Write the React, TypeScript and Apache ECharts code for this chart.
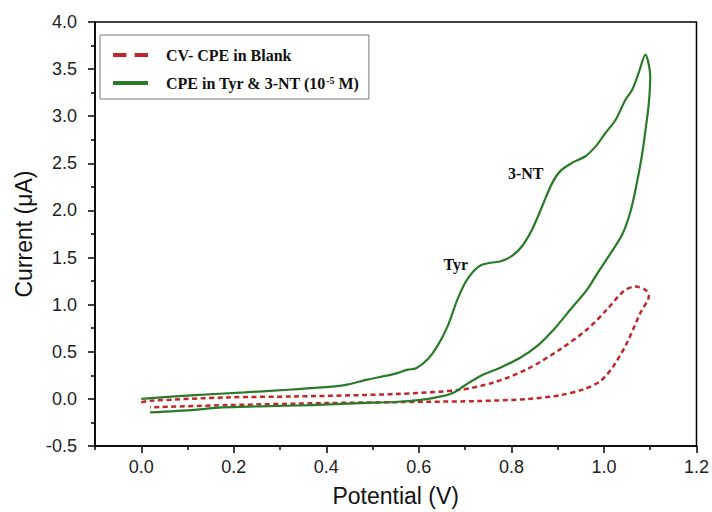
import React, { useEffect, useRef } from 'react';
import * as echarts from 'echarts';

// ---------- data ----------
const blankName = 'CV- CPE in Blank';
const sampleName = 'CPE in Tyr & 3-NT (10-5 M)';

const blankPotential = [
  0.0, 0.019, 0.187, 0.331, 0.547, 0.69, 0.762, 0.834, 0.906, 0.964, 1.007, 1.043, 1.068, 1.09, 1.097,
  1.079, 1.05, 1.021, 0.993, 0.957, 0.906, 0.834, 0.726, 0.619, 0.547, 0.403, 0.187, 0.019,
];
const blankCurrent = [
  -0.037, -0.02, 0.016, 0.026, 0.051, 0.097, 0.175, 0.316, 0.528, 0.739, 0.951, 1.145, 1.192, 1.156, 1.092,
  0.916, 0.598, 0.351, 0.192, 0.104, 0.04, -0.002, -0.023, -0.031, -0.035, -0.044, -0.066, -0.09,
];

const samplePotential = [
  0.0, 0.116, 0.223, 0.317, 0.389, 0.439, 0.489, 0.547, 0.576, 0.594, 0.619, 0.64, 0.662, 0.683, 0.701,
  0.719, 0.735, 0.755, 0.777, 0.802, 0.823, 0.845, 0.867, 0.888, 0.906, 0.931, 0.96, 0.982, 1.003, 1.025,
  1.046, 1.061, 1.075, 1.0895, 1.1,
  1.097, 1.09, 1.082, 1.071, 1.058, 1.04, 1.015, 0.989, 0.964, 0.928, 0.892, 0.856, 0.82, 0.777, 0.734,
  0.698, 0.676, 0.648, 0.604, 0.547, 0.475, 0.367, 0.259, 0.173, 0.116, 0.019,
];
const sampleCurrent = [
  0.0, 0.04, 0.069, 0.097, 0.122, 0.146, 0.205, 0.265, 0.31, 0.325, 0.42, 0.56, 0.77, 1.05, 1.24,
  1.36, 1.42, 1.445, 1.46, 1.52, 1.62, 1.8, 2.05, 2.29, 2.42, 2.505, 2.575, 2.68, 2.82, 2.96,
  3.17, 3.28, 3.46, 3.653, 3.42,
  3.14, 2.86, 2.58, 2.29, 2.0, 1.75, 1.55, 1.357, 1.163, 0.951, 0.739, 0.562, 0.44, 0.334, 0.245,
  0.139, 0.069, 0.026, -0.01, -0.033, -0.044, -0.066, -0.079, -0.09, -0.116, -0.143,
];

const peakLabels = ['Tyr', '3-NT'];
const peakPotential = [0.68, 0.831];
const peakCurrent = [1.43, 2.39];

const xMajorTicks = [0.0, 0.2, 0.4, 0.6, 0.8, 1.0, 1.2];
const xMinorTicks = [-0.1, 0.1, 0.3, 0.5, 0.7, 0.9, 1.1];

// ---------- styles ----------
const RED = '#c0272d';
const GREEN = '#2a7a2a';
const SANS = 'Liberation Sans, Arial, sans-serif';
const SERIF = 'Liberation Serif, Times New Roman, serif';
const DASHED_ICON = 'path://M0 0H13V4H0Z M21 0H34V4H21Z';
const SOLID_ICON = 'path://M0 0H34V4H0Z';

export default function App() {
  const ref = useRef<HTMLDivElement>(null);

  useEffect(() => {
    if (!ref.current) return;
    const chart = echarts.init(ref.current, undefined, { renderer: 'svg' });
    const axisLineStyle = { color: '#000', width: 1.5 };
    chart.setOption({
      animation: false,
      backgroundColor: '#fff',
      grid: {
        left: 95, right: 14, top: 22, bottom: 65,
        show: true, borderColor: '#000', borderWidth: 1.5,
      },
      legend: {
        left: 100, top: 35, orient: 'vertical',
        itemWidth: 35, itemHeight: 14, itemGap: 12,
        padding: [12, 10, 8, 13],
        symbolKeepAspect: true,
        borderColor: '#777', borderWidth: 1, backgroundColor: '#fff',
        data: [
          { name: blankName, icon: DASHED_ICON, itemStyle: { color: RED, borderWidth: 0 } },
          { name: sampleName, icon: SOLID_ICON, itemStyle: { color: GREEN, borderWidth: 0 } },
        ],
        formatter: (name: string) => {
          if (name === sampleName) return '{b|CPE in Tyr & 3-NT (10}{s|-5}{b| M)}';
          return '{b|' + name + '}';
        },
        textStyle: {
          padding: [0, 0, 0, 13],
          fontFamily: SERIF, fontWeight: 'bold', fontSize: 16, color: '#111',
          rich: {
            b: { fontFamily: SERIF, fontWeight: 'bold', fontSize: 16, color: '#111' },
            s: { fontFamily: SERIF, fontWeight: 'bold', fontSize: 10, color: '#111', verticalAlign: 'top' },
          },
        },
      },
      xAxis: [
        {
          type: 'value', min: -0.1, max: 1.2, position: 'bottom',
          name: 'Potential (V)', nameLocation: 'middle', nameGap: 38,
          nameTextStyle: { fontFamily: SANS, fontSize: 23, color: '#111' },
          axisLine: { show: true, onZero: false, lineStyle: axisLineStyle },
          axisTick: { show: true, customValues: xMajorTicks, length: 7, lineStyle: axisLineStyle },
          axisLabel: {
            customValues: xMajorTicks, margin: 12,
            formatter: (v: number) => v.toFixed(1),
            fontFamily: SANS, fontSize: 18, color: '#222',
          },
          splitLine: { show: false },
        },
        {
          type: 'value', min: -0.1, max: 1.2, position: 'bottom', gridIndex: 0,
          axisLine: { show: false, onZero: false },
          axisTick: { show: true, customValues: xMinorTicks, length: 4, lineStyle: axisLineStyle },
          axisLabel: { show: false },
          splitLine: { show: false },
        },
      ],
      yAxis: {
        type: 'value', min: -0.5, max: 4.0, interval: 0.5,
        name: 'Current (μA)', nameLocation: 'middle', nameGap: 57,
        nameTextStyle: { fontFamily: SANS, fontSize: 23, color: '#111' },
        axisLine: { show: true, onZero: false, lineStyle: axisLineStyle },
        axisTick: { show: true, length: 7, lineStyle: axisLineStyle },
        minorTick: { show: true, splitNumber: 2, length: 4, lineStyle: axisLineStyle },
        axisLabel: {
          margin: 18,
          formatter: (v: number) => v.toFixed(1),
          fontFamily: SANS, fontSize: 18, color: '#222',
        },
        splitLine: { show: false },
        minorSplitLine: { show: false },
      },
      series: [
        {
          type: 'line', name: blankName, xAxisIndex: 0, yAxisIndex: 0,
          data: blankPotential.map((x, i) => [x, blankCurrent[i]]),
          symbol: 'none', showSymbol: false, smooth: 0.3,
          lineStyle: { color: RED, width: 2.5, type: [5, 3.5] },
          itemStyle: { color: RED },
        },
        {
          type: 'line', name: sampleName, xAxisIndex: 0, yAxisIndex: 0,
          data: samplePotential.map((x, i) => [x, sampleCurrent[i]]),
          symbol: 'none', showSymbol: false, smooth: 0.3,
          lineStyle: { color: GREEN, width: 2.2 },
          itemStyle: { color: GREEN },
          markPoint: {
            symbol: 'circle', symbolSize: 1, silent: true,
            itemStyle: { color: 'rgba(0,0,0,0)' },
            label: {
              show: true, position: 'inside', formatter: '{b}',
              fontFamily: SERIF, fontWeight: 'bold', fontSize: 16, color: '#111',
            },
            data: peakLabels.map((n, i) => ({ name: n, coord: [peakPotential[i], peakCurrent[i]] })),
          },
        },
      ],
    });
    return () => chart.dispose();
  }, []);

  return (
    <div
      ref={ref}
      style={{ position: 'absolute', left: 0, top: 0, width: 712, height: 512, background: '#fff' }}
    />
  );
}
